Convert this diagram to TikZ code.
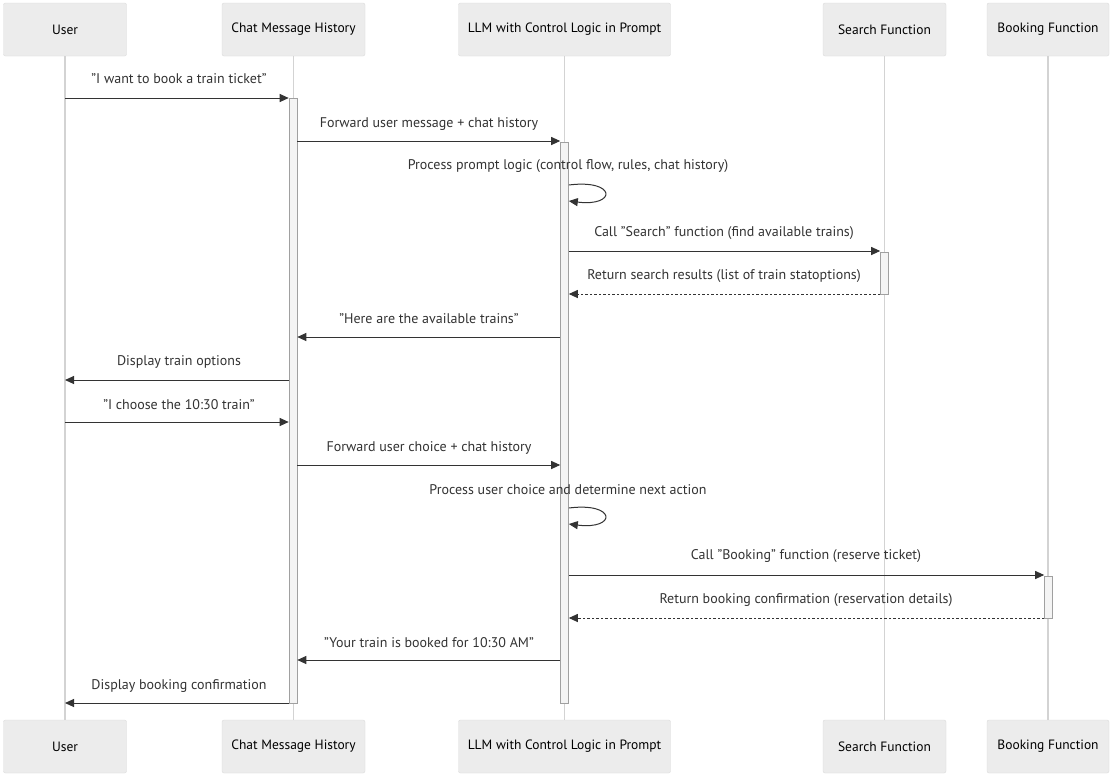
\documentclass[tikz,border=0pt]{standalone}
\usepackage{fontspec}
\setmainfont{PT Sans}
\usetikzlibrary{arrows.meta}
\definecolor{actfill}{HTML}{ECECEC}
\definecolor{actdraw}{HTML}{DCDCDC}
\definecolor{lifec}{HTML}{D3D3D3}
\definecolor{txt}{HTML}{333333}
\definecolor{barfill}{HTML}{F4F4F4}
\definecolor{bardraw}{HTML}{A0A0A0}
\begin{document}
\begin{tikzpicture}[x=1pt,y=-1pt,
  actor/.style={draw=actdraw, fill=actfill, rounded corners=2pt, minimum height=53pt, inner sep=0pt, text=black, font=\fontsize{13.5}{15}\selectfont},
  lifeline/.style={draw=lifec, line width=1.2pt},
  actbar/.style={draw=bardraw, fill=barfill, line width=0.6pt, minimum width=8pt, inner sep=0pt},
  msg/.style={draw=txt, line width=1pt, -{Triangle[length=9pt,width=8pt]}},
  reply/.style={msg, dash pattern=on 2.5pt off 2pt},
  lbl/.style={text=txt, font=\fontsize{14}{16}\selectfont, inner sep=0pt}]
\useasboundingbox (0,0) rectangle (1110,774);
\fill[white] (0,0) rectangle (1110,774);
% actors
\node[actor, minimum width=123pt] (uT) at (65,29.5) {User};
\node[actor, minimum width=143pt] (cT) at (293.5,29.5) {Chat Message History};
\node[actor, minimum width=212pt] (lT) at (564.5,29.5) {LLM with Control Logic in Prompt};
\node[actor, minimum width=123pt] (sT) at (884.5,29.5) {Search Function};
\node[actor, minimum width=122pt] (bT) at (1048,29.5) {Booking Function};
\node[actor, minimum width=123pt] (uB) at (65,746.5) {User};
\node[actor, minimum width=143pt] (cB) at (293.5,746.5) {Chat Message History};
\node[actor, minimum width=212pt] (lB) at (564.5,746.5) {LLM with Control Logic in Prompt};
\node[actor, minimum width=123pt] (sB) at (884.5,746.5) {Search Function};
\node[actor, minimum width=122pt] (bB) at (1048,746.5) {Booking Function};
% lifelines
\foreach \a in {u,c,l,s,b} \draw[lifeline] (\a T.south) -- (\a B.north);
% activation bars
\node[actbar, minimum height=605pt] (cbar) at (293,400.5) {};
\node[actbar, minimum height=561pt] (lbar) at (564.5,422.5) {};
\node[actbar, minimum height=42pt] (sbar) at (884.5,273) {};
\node[actbar, minimum height=42pt] (bbar) at (1048.5,597) {};
% message end points
\coordinate (m1a) at (uT.south |- 0,98);   \coordinate (m1b) at (cbar.west |- 0,98);
\coordinate (m2a) at (cbar.east |- 0,141); \coordinate (m2b) at (lbar.west |- 0,141);
\coordinate (m3a) at (lbar.east |- 0,185); \coordinate (m3b) at (lbar.east |- 0,201);
\coordinate (m4a) at (lbar.east |- 0,251); \coordinate (m4b) at (sbar.west |- 0,251);
\coordinate (m5a) at (sbar.west |- 0,294); \coordinate (m5b) at (lbar.east |- 0,294);
\coordinate (m6a) at (lbar.west |- 0,337); \coordinate (m6b) at (cbar.east |- 0,337);
\coordinate (m7a) at (cbar.west |- 0,380); \coordinate (m7b) at (uT.south |- 0,380);
\coordinate (m8a) at (uT.south |- 0,422);  \coordinate (m8b) at (cbar.west |- 0,422);
\coordinate (m9a) at (cbar.east |- 0,465); \coordinate (m9b) at (lbar.west |- 0,465);
\coordinate (m10a) at (lbar.east |- 0,508); \coordinate (m10b) at (lbar.east |- 0,524);
\coordinate (m11a) at (lbar.east |- 0,575); \coordinate (m11b) at (bbar.west |- 0,575);
\coordinate (m12a) at (bbar.west |- 0,618); \coordinate (m12b) at (lbar.east |- 0,618);
\coordinate (m13a) at (lbar.west |- 0,660); \coordinate (m13b) at (cbar.east |- 0,660);
\coordinate (m14a) at (cbar.west |- 0,703); \coordinate (m14b) at (uT.south |- 0,703);
% messages
\draw[msg] (m1a) -- (m1b);
\node[lbl] (t1) at (179,79) {"I want to book a train ticket"};
\draw[msg] (m2a) -- (m2b);
\node[lbl] (t2) at (429,124) {Forward user message + chat history};
\draw[msg] (m3a) .. controls ++(48,-6) and ++(48,6) .. (m3b);
\node[lbl] (t3) at (568,166) {Process prompt logic (control flow, rules, chat history)};
\draw[msg] (m4a) -- (m4b);
\node[lbl] (t4) at (724,233) {Call "Search" function (find available trains)};
\draw[reply] (m5a) -- (m5b);
\node[lbl] (t5) at (724,276) {Return search results (list of train statoptions)};
\draw[msg] (m6a) -- (m6b);
\node[lbl] (t6) at (429,319) {"Here are the available trains"};
\draw[msg] (m7a) -- (m7b);
\node[lbl] (t7) at (179,362) {Display train options};
\draw[msg] (m8a) -- (m8b);
\node[lbl] (t8) at (179,405) {"I choose the 10:30 train"};
\draw[msg] (m9a) -- (m9b);
\node[lbl] (t9) at (429,448) {Forward user choice + chat history};
\draw[msg] (m10a) .. controls ++(48,-6) and ++(48,6) .. (m10b);
\node[lbl] (t10) at (568,490) {Process user choice and determine next action};
\draw[msg] (m11a) -- (m11b);
\node[lbl] (t11) at (806,556) {Call "Booking" function (reserve ticket)};
\draw[reply] (m12a) -- (m12b);
\node[lbl] (t12) at (806,600) {Return booking confirmation (reservation details)};
\draw[msg] (m13a) -- (m13b);
\node[lbl] (t13) at (429,643) {"Your train is booked for 10:30 AM"};
\draw[msg] (m14a) -- (m14b);
\node[lbl] (t14) at (179,686) {Display booking confirmation};
\end{tikzpicture}
\end{document}
